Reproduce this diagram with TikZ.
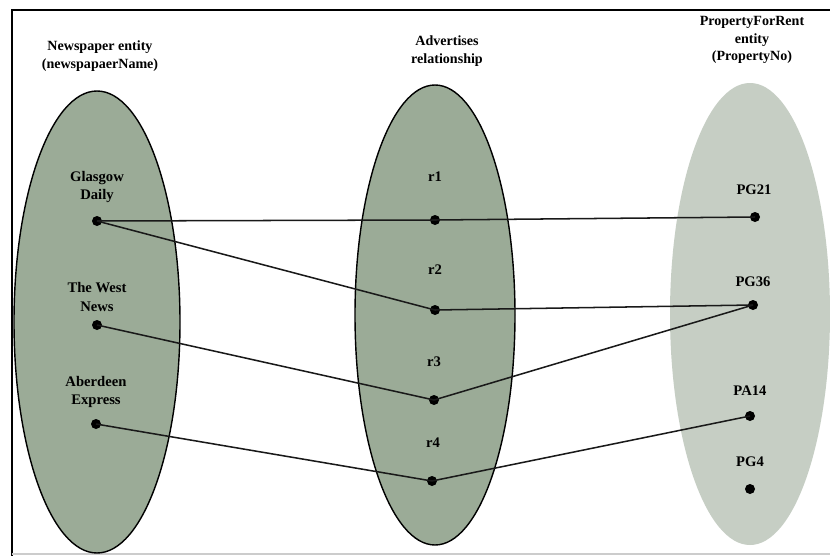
\documentclass[tikz,border=0pt]{standalone}
\usepackage{fontspec}
\setmainfont{Liberation Serif}
\usepackage{tikz}
\usetikzlibrary{positioning}
\definecolor{setfill}{RGB}{155,171,151}
\definecolor{propfill}{RGB}{198,206,196}
\definecolor{rim}{RGB}{25,25,25}

\begin{document}
\begin{tikzpicture}[x=0.03cm, y=-0.03cm,
    dot/.style={circle, fill=black, inner sep=0pt, minimum size=0.3cm},
    lbl/.style={font=\fontsize{12.5}{16}\selectfont\bfseries, align=center, inner sep=1pt},
    head/.style={font=\fontsize{12}{15}\selectfont\bfseries, align=center, inner sep=1pt},
    link/.style={line width=1.3pt, rim}]
  \useasboundingbox (0,0) rectangle (830,556);
  \fill[white] (0,0) rectangle (830,556);
  \draw[line width=1.8pt] (12,556) -- (12,10) -- (830,10);
  \draw[gray!40, line width=1.5pt] (12,554) -- (830,554);

  \fill[propfill] (750,314) ellipse (80 and 231);
  \draw[fill=setfill, line width=1.2pt] (97,322) ellipse (83 and 231);
  \draw[fill=setfill, line width=1.2pt] (435,315) ellipse (80 and 230);

  \node[head] (newsHead) at (100,56) {Newspaper entity\\(newspapaerName)};
  \node[head] (advHead)  at (447,51) {Advertises\\relationship};
  \node[head] (propHead) at (752,40) {PropertyForRent\\entity\\(PropertyNo)};

  \node[dot] (glasgow)  at (97,221) {};
  \node[dot] (west)     at (97,325) {};
  \node[dot] (aberdeen) at (96,424) {};
  \node[lbl] at (97,187) {Glasgow\\Daily};
  \node[lbl] at (97,297) {The West\\News};
  \node[lbl] at (96,392) {Aberdeen\\Express};

  \node[dot] (r1) at (435,220) {};
  \node[dot] (r2) at (435,310) {};
  \node[dot] (r3) at (434,400) {};
  \node[dot] (r4) at (432,481) {};
  \node[lbl] at (435,177) {r1};
  \node[lbl] at (435,270) {r2};
  \node[lbl] at (434,362) {r3};
  \node[lbl] at (433,443) {r4};

  \node[dot] (pg21) at (755,217) {};
  \node[dot] (pg36) at (753,305) {};
  \node[dot] (pa14) at (750,416) {};
  \node[dot] (pg4)  at (750,489) {};
  \node[lbl] at (754,190) {PG21};
  \node[lbl] at (753,282) {PG36};
  \node[lbl] at (750,391) {PA14};
  \node[lbl] at (750,462) {PG4};

  \draw[link] (glasgow.center) -- (r1.center) -- (pg21.center);
  \draw[link] (glasgow.center) -- (r2.center) -- (pg36.center);
  \draw[link] (west.center) -- (r3.center) -- (pg36.center);
  \draw[link] (aberdeen.center) -- (r4.center) -- (pa14.center);
\end{tikzpicture}
\end{document}
